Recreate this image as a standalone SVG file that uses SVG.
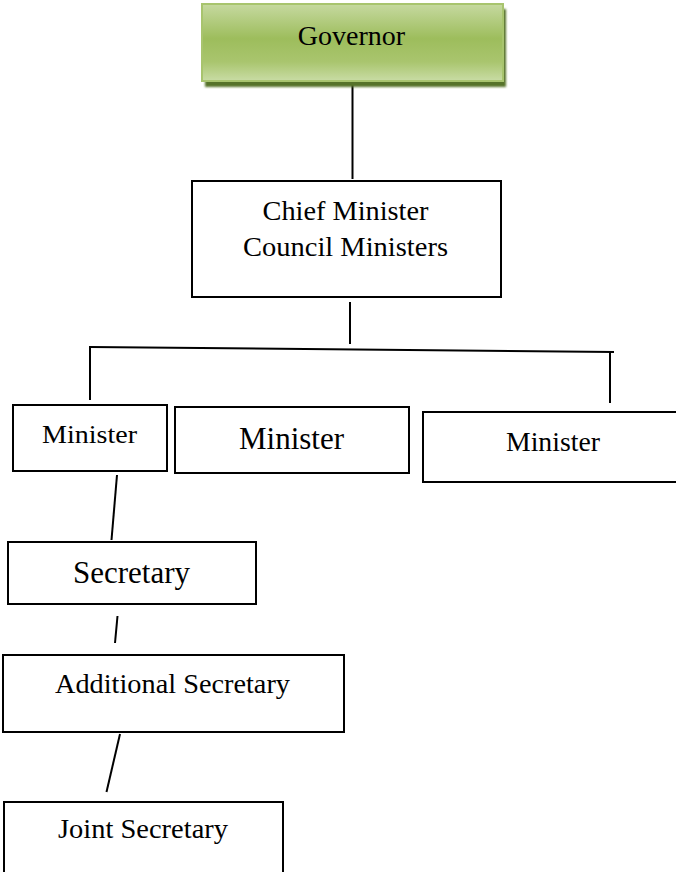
<svg xmlns="http://www.w3.org/2000/svg" width="676" height="872" viewBox="0 0 676 872">
  <defs>
    <linearGradient id="greenFill" x1="0" y1="0" x2="0" y2="1">
      <stop offset="0" stop-color="#c6d9a0"/>
      <stop offset="0.45" stop-color="#9dbd5c"/>
      <stop offset="0.75" stop-color="#a9c56e"/>
      <stop offset="1" stop-color="#c9dca5"/>
    </linearGradient>
    <filter id="soft" x="-5%" y="-20%" width="110%" height="140%">
      <feGaussianBlur stdDeviation="0.8"/>
    </filter>
  </defs>
  <style>
    .box { fill: #ffffff; stroke: #000000; stroke-width: 2; }
    .lbl { font-family: "Liberation Serif", "Times New Roman", serif; fill: #000000; text-anchor: middle; }
    .link { stroke: #000000; stroke-width: 2; fill: none; stroke-linecap: butt; }
  </style>

  <rect width="676" height="872" fill="#ffffff"/>

  <!-- connectors -->
  <g id="connectors">
    <line class="link" x1="352.5" y1="82" x2="352.5" y2="179"/>
    <line class="link" x1="350" y1="302" x2="350" y2="344"/>
    <line class="link" x1="90" y1="347" x2="614" y2="352"/>
    <line class="link" x1="90" y1="346" x2="90" y2="400"/>
    <line class="link" x1="610" y1="352" x2="610" y2="403"/>
    <line class="link" x1="117" y1="475" x2="111.5" y2="540"/>
    <line class="link" x1="117.5" y1="616" x2="115" y2="643"/>
    <line class="link" x1="120" y1="734" x2="106.5" y2="792"/>
  </g>

  <!-- Governor -->
  <g id="governor">
    <rect x="205" y="9" width="301" height="78" fill="#56732a" filter="url(#soft)"/>
    <rect x="202" y="4" width="301" height="77" fill="url(#greenFill)" stroke="#a8c46e" stroke-width="2"/>
    <text class="lbl" x="351.5" y="45" font-size="28">Governor</text>
  </g>

  <!-- Chief Minister / Council Ministers -->
  <g id="chief-minister">
    <rect class="box" x="192" y="181" width="309" height="116"/>
    <text class="lbl" x="345.5" y="220" font-size="28" textLength="166" lengthAdjust="spacingAndGlyphs">Chief Minister</text>
    <text class="lbl" x="345.5" y="256" font-size="28" textLength="205" lengthAdjust="spacingAndGlyphs">Council Ministers</text>
  </g>

  <!-- Ministers -->
  <g id="minister-1">
    <rect class="box" x="13" y="405" width="154" height="66"/>
    <text class="lbl" x="89.5" y="443" font-size="26" textLength="95" lengthAdjust="spacingAndGlyphs">Minister</text>
  </g>
  <g id="minister-2">
    <rect class="box" x="175" y="407" width="234" height="66"/>
    <text class="lbl" x="291.5" y="449" font-size="32" textLength="105" lengthAdjust="spacingAndGlyphs">Minister</text>
  </g>
  <g id="minister-3">
    <rect class="box" x="423" y="412" width="262" height="70"/>
    <text class="lbl" x="553" y="451" font-size="28" textLength="94" lengthAdjust="spacingAndGlyphs">Minister</text>
  </g>

  <!-- Secretary chain -->
  <g id="secretary">
    <rect class="box" x="8" y="542" width="248" height="62"/>
    <text class="lbl" x="131.5" y="583" font-size="31" textLength="117" lengthAdjust="spacingAndGlyphs">Secretary</text>
  </g>
  <g id="additional-secretary">
    <rect class="box" x="3" y="655" width="341" height="77"/>
    <text class="lbl" x="172.5" y="693" font-size="28" textLength="235" lengthAdjust="spacingAndGlyphs">Additional Secretary</text>
  </g>
  <g id="joint-secretary">
    <rect class="box" x="4" y="802" width="279" height="80"/>
    <text class="lbl" x="143" y="838" font-size="28" textLength="170" lengthAdjust="spacingAndGlyphs">Joint Secretary</text>
  </g>
</svg>
